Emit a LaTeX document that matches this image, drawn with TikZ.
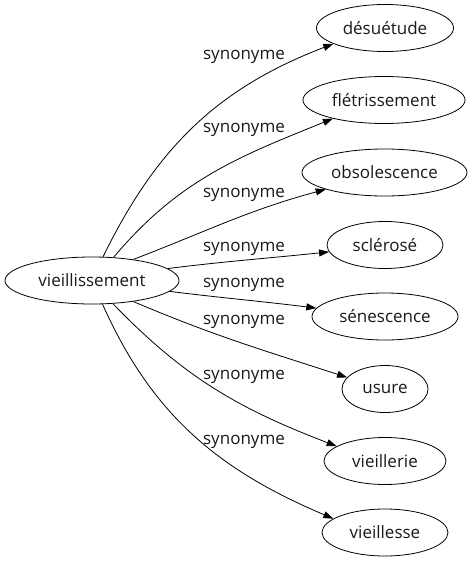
\documentclass[tikz,border=0pt]{standalone}
\usepackage{fontspec}
\setmainfont{Open Sans}
\usepackage{tikz}
\usetikzlibrary{shapes.geometric,arrows.meta}
\tikzstyle{word}=[
        draw,
        ellipse,
        line width=0.8pt,
        minimum height=47pt,
        inner sep=0pt,
        text=black!90,
        font=\fontsize{17}{20}\selectfont
]
\tikzstyle{edgetext}=[
        text=black!90,
        font=\fontsize{17}{20}\selectfont
]
\tikzstyle{relation}=[
        draw,
        line width=0.8pt,
        -{Triangle[length=10pt,width=7pt]}
]

\begin{document}
\begin{tikzpicture}[x=1pt,y=1pt]
                        \useasboundingbox (0,0) rectangle (473,-563);

                        \node[word, minimum width=174pt] (vieillissement) at (92,-280.5) {vieillissement};

                        \node[word, minimum width=137pt] (desuetude) at (385,-28) {désuétude};
                        \node[word, minimum width=162pt] (fletrissement) at (384,-100) {flétrissement};
                        \node[word, minimum width=165pt] (obsolescence) at (384.5,-172.5) {obsolescence};
                        \node[word, minimum width=116pt] (sclerose) at (385,-245) {sclérosé};
                        \node[word, minimum width=146pt] (senescence) at (385,-316.5) {sénescence};
                        \node[word, minimum width=86pt] (usure) at (385,-389) {usure};
                        \node[word, minimum width=122pt] (vieillerie) at (385,-461) {vieillerie};
                        \node[word, minimum width=126pt] (vieillesse) at (385,-532.5) {vieillesse};

                        \node[edgetext] (s1) at (244,-57) {synonyme};
                        \node[edgetext] (s2) at (244,-130) {synonyme};
                        \node[edgetext] (s3) at (244,-195) {synonyme};
                        \node[edgetext] (s4) at (244,-249) {synonyme};
                        \node[edgetext] (s5) at (244,-285) {synonyme};
                        \node[edgetext] (s6) at (244,-322) {synonyme};
                        \node[edgetext] (s7) at (244,-377) {synonyme};
                        \node[edgetext] (s8) at (244,-442) {synonyme};

                        \draw[relation] (vieillissement.65) to[out=64,in=201] (desuetude.197);
                        \draw[relation] (vieillissement.47) to[out=50,in=202] (fletrissement.200);
                        \draw[relation] (vieillissement.27) to[out=21,in=195] (obsolescence.196);
                        \draw[relation] (vieillissement.9) to[out=7,in=186] (sclerose.187);
                        \draw[relation] (vieillissement.-8) to[out=-7,in=173] (senescence.173);
                        \draw[relation] (vieillissement.-27) to[out=-23,in=162] (usure.163);
                        \draw[relation] (vieillissement.-48) to[out=-46,in=159] (vieillerie.163);
                        \draw[relation] (vieillissement.-66) to[out=-66,in=157] (vieillesse.165);
\end{tikzpicture}
\end{document}
